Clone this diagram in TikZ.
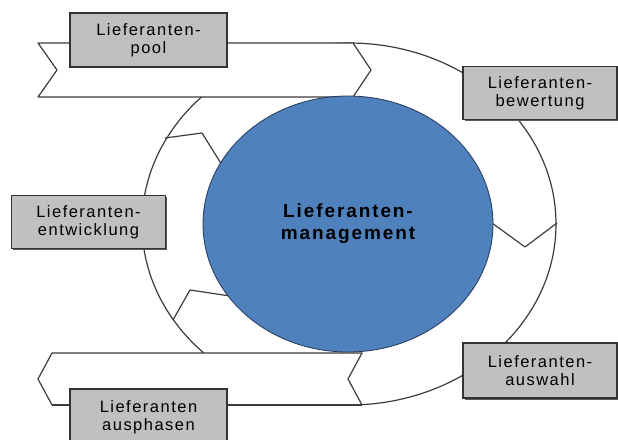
\documentclass[tikz,border=0pt]{standalone}
\usepackage{fontspec}
\setmainfont{Liberation Sans}
\usetikzlibrary{shapes.geometric}
\definecolor{boxgray}{HTML}{C0C0C0}
\definecolor{linegray}{HTML}{3C3C3C}
\definecolor{cblue}{HTML}{4F81BD}
\definecolor{cblueedge}{HTML}{22385A}
\begin{document}
\begin{tikzpicture}[x=1pt,y=-1pt,
  ring/.style={draw=linegray,line width=1.2pt,line join=round},
  band/.style={fill=white,draw=linegray,line width=1.2pt,line join=round},
  lbox/.style={rectangle,fill=boxgray,draw=black!80,line width=1.3pt,
    minimum width=154pt,minimum height=53pt,inner sep=0pt,align=center,
    font=\fontsize{16.5}{18}\selectfont\addfontfeatures{LetterSpace=9}},
  shadowbox/.style={rectangle,fill=black!65,draw=none,
    minimum width=154pt,minimum height=53pt,inner sep=0pt},
  hub/.style={ellipse,fill=cblue,draw=cblueedge,line width=0.8pt,
    minimum width=290pt,minimum height=256pt,inner sep=0pt,align=center,
    font=\fontsize{19}{22}\selectfont\bfseries\addfontfeatures{LetterSpace=10}}
]
\useasboundingbox (0,0) rectangle (618,439);
\clip (0,0) rectangle (618,439);
\fill[white] (0,0) rectangle (618,439);

% outer ring
\coordinate (rc) at (349,224);
\draw[ring] (rc) ellipse [x radius=207pt, y radius=181pt];

% bands
\draw[band] (38,43) -- (353,43) -- (371,70) -- (353,97) -- (38,97) -- (57,70) -- cycle;
\draw[band] (52,353) -- (362,353) -- (348,379) -- (362,405) -- (52,405) -- (38,379) -- cycle;
\draw[draw=linegray,line width=1.8pt] (52,405) -- (362,405);

% chevrons
\draw[ring] (557,223) -- (525,247) -- (492,223);
\draw[ring] (165,138) -- (202,133) -- (222,165);
\draw[ring] (173,320) -- (190,290) -- (230,296);

% hub
\node[hub] (mgmt) at (348,224) {Lieferanten-\\management};

% boxes
\node[shadowbox] at (150.5,41.5) {};
\node[lbox,minimum width=157pt,minimum height=54pt] (pool) at (148.5,40) {Lieferanten-\\pool};
\node[shadowbox] at (541.5,94.5) {};
\node[lbox] (bew) at (540,93) {Lieferanten-\\bewertung};
\node[shadowbox] at (90,223.5) {};
\node[lbox] (entw) at (88.5,222) {Lieferanten-\\entwicklung};
\node[shadowbox,minimum height=55pt] at (541.5,372) {};
\node[lbox,minimum height=55pt] (ausw) at (540,370.5) {Lieferanten-\\auswahl};
\node[lbox,minimum width=157pt,minimum height=56pt] (ausph) at (148.5,417) {Lieferanten\\ausphasen};
\end{tikzpicture}
\end{document}
